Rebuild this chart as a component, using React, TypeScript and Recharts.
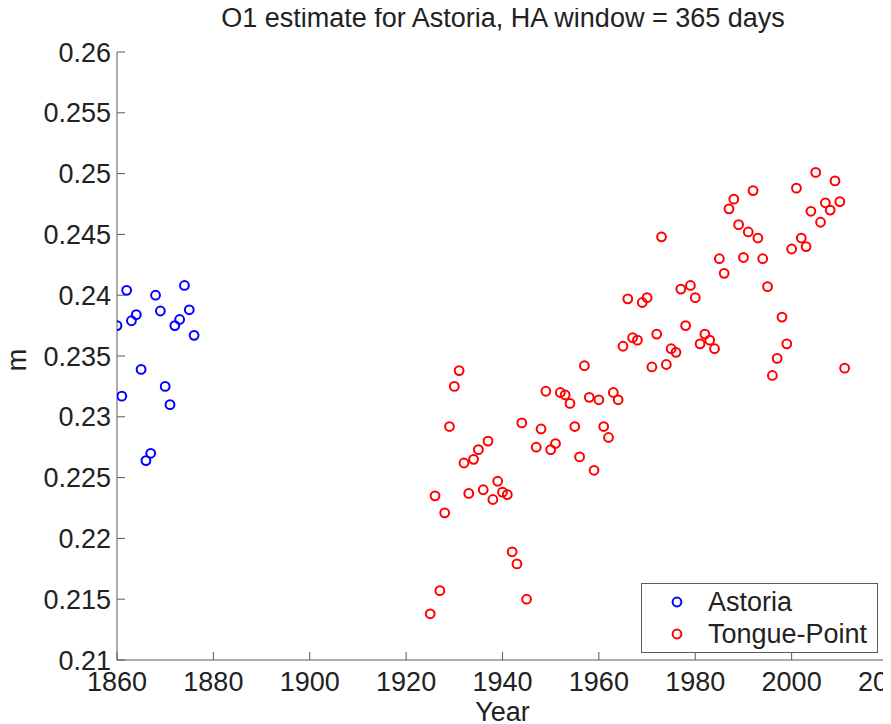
import { ScatterChart, Scatter, XAxis, YAxis, Label } from "recharts";

const astoriaYears = [
  1860, 1861, 1862, 1863, 1864, 1865, 1866, 1867, 1868, 1869, 1870, 1871,
  1872, 1873, 1874, 1875, 1876,
];
const astoriaValues = [
  0.2375, 0.2317, 0.2404, 0.2379, 0.2384, 0.2339, 0.2264, 0.227, 0.24, 0.2387,
  0.2325, 0.231, 0.2375, 0.238, 0.2408, 0.2388, 0.2367,
];

const tongueYears = [
  1925, 1926, 1927, 1928, 1929, 1930, 1931, 1932, 1933, 1934, 1935, 1936,
  1937, 1938, 1939, 1940, 1941, 1942, 1943, 1944, 1945, 1947, 1948, 1949,
  1950, 1951, 1952, 1953, 1954, 1955, 1956, 1957, 1958, 1959, 1960, 1961,
  1962, 1963, 1964, 1965, 1966, 1967, 1968, 1969, 1970, 1971, 1972, 1973,
  1974, 1975, 1976, 1977, 1978, 1979, 1980, 1981, 1982, 1983, 1984, 1985,
  1986, 1987, 1988, 1989, 1990, 1991, 1992, 1993, 1994, 1995, 1996, 1997,
  1998, 1999, 2000, 2001, 2002, 2003, 2004, 2005, 2006, 2007, 2008, 2009,
  2010, 2011,
];
const tongueValues = [
  0.2138, 0.2235, 0.2157, 0.2221, 0.2292, 0.2325, 0.2338, 0.2262, 0.2237,
  0.2265, 0.2273, 0.224, 0.228, 0.2232, 0.2247, 0.2238, 0.2236, 0.2189,
  0.2179, 0.2295, 0.215, 0.2275, 0.229, 0.2321, 0.2273, 0.2278, 0.232,
  0.2318, 0.2311, 0.2292, 0.2267, 0.2342, 0.2316, 0.2256, 0.2314, 0.2292,
  0.2283, 0.232, 0.2314, 0.2358, 0.2397, 0.2365, 0.2363, 0.2394, 0.2398,
  0.2341, 0.2368, 0.2448, 0.2343, 0.2356, 0.2353, 0.2405, 0.2375, 0.2408,
  0.2398, 0.236, 0.2368, 0.2363, 0.2356, 0.243, 0.2418, 0.2471, 0.2479,
  0.2458, 0.2431, 0.2452, 0.2486, 0.2447, 0.243, 0.2407, 0.2334, 0.2348,
  0.2382, 0.236, 0.2438, 0.2488, 0.2447, 0.244, 0.2469, 0.2501, 0.246,
  0.2476, 0.247, 0.2494, 0.2477, 0.234,
];

const xTicks = [1860, 1880, 1900, 1920, 1940, 1960, 1980, 2000, 2020];
const yTicks = [
  0.21, 0.215, 0.22, 0.225, 0.23, 0.235, 0.24, 0.245, 0.25, 0.255, 0.26,
];

const astoria = astoriaYears.map((year, i) => ({ year, value: astoriaValues[i] }));
const tonguePoint = tongueYears.map((year, i) => ({ year, value: tongueValues[i] }));

const FONT = '"Liberation Sans", Arial, sans-serif';
const FS = 27;
const AXIS = "#5a5a5a";
const TEXT = "#222";
const BLUE = "#0000ff";
const RED = "#ff0000";

const ring = (color: string) => (props: any) =>
  (
    <circle
      cx={props.cx}
      cy={props.cy}
      r={4.4}
      fill="none"
      stroke={color}
      strokeWidth={2}
    />
  );

const fmtY = (v: number) => String(parseFloat(v.toFixed(3)));
const blank = () => "";

export default function App() {
  return (
    <div style={{ position: "relative", width: 883, height: 716, fontFamily: FONT }}>
      <div
        style={{
          position: "absolute",
          left: 0,
          width: 990,
          top: -5,
          textAlign: "center",
          fontSize: FS,
          lineHeight: "30px",
          color: TEXT,
        }}
      >
        O1 estimate for Astoria, HA window = 365 days
      </div>

      <ScatterChart
        width={883}
        height={716}
        margin={{ top: 44, right: 3, bottom: 0, left: 0 }}
        style={{ fontFamily: FONT }}
      >
        <XAxis
          xAxisId={0}
          type="number"
          dataKey="year"
          domain={[1860, 2020]}
          ticks={xTicks}
          interval={0}
          height={64}
          tickSize={-8}
          tickMargin={20}
          stroke={AXIS}
          tick={{ fontSize: FS, fill: TEXT }}
          allowDataOverflow
        >
          <Label
            content={(p: any) => (
              <text
                x={p.viewBox.x + p.viewBox.width / 2}
                y={p.viewBox.y + p.viewBox.height - 3}
                textAnchor="middle"
                fontSize={FS}
                fill={TEXT}
              >
                Year
              </text>
            )}
          />
        </XAxis>
        <XAxis
          xAxisId="top"
          orientation="top"
          type="number"
          domain={[1860, 2020]}
          ticks={xTicks}
          interval={0}
          height={0}
          tickSize={-8}
          tickFormatter={blank}
          stroke={AXIS}
          allowDataOverflow
        />
        <YAxis
          yAxisId={0}
          type="number"
          dataKey="value"
          domain={[0.21, 0.26]}
          ticks={yTicks}
          interval={0}
          width={109}
          tickSize={-8}
          tickMargin={14}
          tickFormatter={fmtY}
          stroke={AXIS}
          tick={{ fontSize: FS, fill: TEXT }}
          allowDataOverflow
        >
          <Label
            content={(p: any) => {
              const cx = 18;
              const cy = p.viewBox.y + p.viewBox.height / 2 + 4;
              return (
                <text
                  x={cx}
                  y={cy}
                  transform={`rotate(-90, ${cx}, ${cy})`}
                  textAnchor="middle"
                  fontSize={FS}
                  fill={TEXT}
                >
                  m
                </text>
              );
            }}
          />
        </YAxis>
        <YAxis
          yAxisId="right"
          orientation="right"
          type="number"
          domain={[0.21, 0.26]}
          ticks={yTicks}
          interval={0}
          width={0}
          tickSize={-8}
          tickFormatter={blank}
          stroke={AXIS}
          allowDataOverflow
        />
        <Scatter
          name="Astoria"
          data={astoria}
          xAxisId={0}
          yAxisId={0}
          shape={ring(BLUE)}
          isAnimationActive={false}
        />
        <Scatter
          name="Tongue-Point"
          data={tonguePoint}
          xAxisId={0}
          yAxisId={0}
          shape={ring(RED)}
          isAnimationActive={false}
        />
      </ScatterChart>

      <div
        style={{
          position: "absolute",
          left: 633,
          top: 575,
          width: 235,
          height: 68,
          border: `1px solid ${AXIS}`,
          background: "#fff",
          fontSize: FS,
          color: TEXT,
        }}
      >
        {[
          { name: "Astoria", color: BLUE, top: 0 },
          { name: "Tongue-Point", color: RED, top: 32 },
        ].map((item) => (
          <div
            key={item.name}
            style={{
              position: "absolute",
              left: 0,
              top: item.top + 3,
              height: 30,
              lineHeight: "30px",
              whiteSpace: "nowrap",
            }}
          >
            <svg
              width={14}
              height={14}
              style={{ position: "absolute", left: 28, top: 8 }}
            >
              <circle cx={7} cy={7} r={4.4} fill="none" stroke={item.color} strokeWidth={2} />
            </svg>
            <span style={{ position: "absolute", left: 66 }}>{item.name}</span>
          </div>
        ))}
      </div>
    </div>
  );
}
